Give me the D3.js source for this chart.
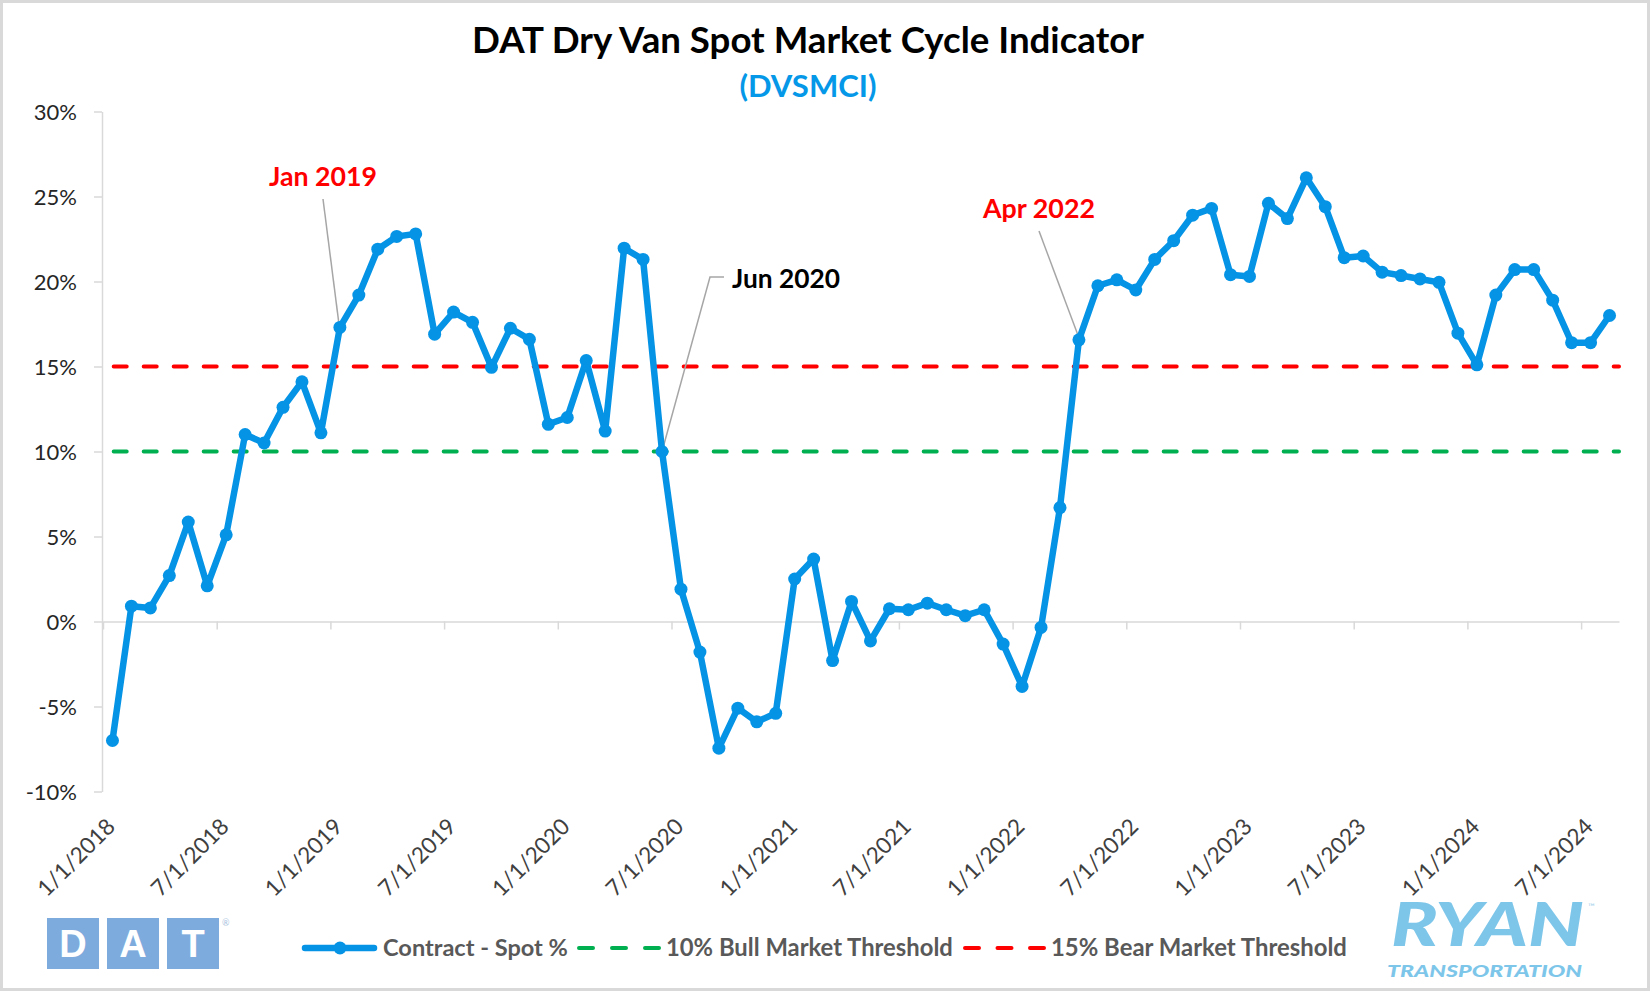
<!DOCTYPE html>
<html><head><meta charset="utf-8">
<script src="https://cdn.jsdelivr.net/npm/d3@7"></script>
<style>html,body{margin:0;padding:0;background:#fff;} svg{display:block;}</style>
</head><body><svg id="c" width="1650" height="991"></svg>
<script>
// ---------- DATA ----------
const firstMonth = "Jan 2018";
const spread2018 = [-7.0, 0.9, 0.8, 2.7, 5.85, 2.1, 5.1, 11.0, 10.5, 12.6, 14.1, 11.1];
const spread2019 = [17.3, 19.2, 21.9, 22.65, 22.8, 16.9, 18.2, 17.6, 14.95, 17.25, 16.6, 11.6];
const spread2020 = [12.0, 15.35, 11.2, 21.96, 21.3, 10.0, 1.9, -1.8, -7.45, -5.1, -5.9, -5.4];
const spread2021 = [2.5, 3.67, -2.3, 1.18, -1.14, 0.75, 0.69, 1.08, 0.69, 0.34, 0.69, -1.33];
const spread2022 = [-3.82, -0.35, 6.7, 16.57, 19.75, 20.1, 19.5, 21.3, 22.4, 23.9, 24.3, 20.4];
const spread2023 = [20.3, 24.6, 23.7, 26.1, 24.4, 21.4, 21.5, 20.55, 20.35, 20.15, 19.95, 16.96];
const spread2024 = [15.1, 19.2, 20.7, 20.7, 18.9, 16.4, 16.4, 18.0];
const bullThreshold = 10;
const bearThreshold = 15;
const tickLabels = ["1/1/2018","7/1/2018","1/1/2019","7/1/2019","1/1/2020","7/1/2020","1/1/2021",
                    "7/1/2021","1/1/2022","7/1/2022","1/1/2023","7/1/2023","1/1/2024","7/1/2024"];
const yTicks = [-10, -5, 0, 5, 10, 15, 20, 25, 30];
const annotations = [
  {label: "Jan 2019", index: 12, color: "#FF0000"},
  {label: "Jun 2020", index: 29, color: "#000000"},
  {label: "Apr 2022", index: 51, color: "#FF0000"}
];
const legendLabels = ["Contract - Spot %", "10% Bull Market Threshold", "15% Bear Market Threshold"];
const titleText = "DAT Dry Van Spot Market Cycle Indicator";
const subtitleText = "(DVSMCI)";

const spread = [].concat(spread2018, spread2019, spread2020, spread2021, spread2022, spread2023, spread2024);

// ---------- LAYOUT ----------
const W = 1650, H = 991;
const BLUE = "#0593E6", RED = "#FF0000", GREEN = "#00B050", AXIS = "#D9D9D9";
const FONT = "Lato, Carlito, 'Open Sans', sans-serif";
const svg = d3.select("#c");

svg.append("rect").attr("x", 1.5).attr("y", 1.5).attr("width", W - 3).attr("height", H - 3)
  .attr("fill", "#fff").attr("stroke", AXIS).attr("stroke-width", 3);

const xm = d3.scaleLinear().domain([0, spread.length]).range([103, 1619]);
const y = d3.scaleLinear().domain([-10, 30]).range([791.5, 111.5]);

function fit(sel, target) {
  const n = sel.node();
  const fs = parseFloat(sel.attr("font-size"));
  const w = n.getComputedTextLength();
  if (w > 0) sel.attr("font-size", (fs * target / w).toFixed(2));
  return sel;
}

// Title
const t1 = svg.append("text").attr("x", 808).attr("y", 53).attr("text-anchor", "middle")
  .attr("font-family", FONT).attr("font-weight", 700).attr("font-size", 32).attr("fill", "#000")
  .text(titleText);
fit(t1, 672);
const t2 = svg.append("text").attr("x", 808).attr("y", 97).attr("text-anchor", "middle")
  .attr("font-family", FONT).attr("font-weight", 700).attr("font-size", 28).attr("fill", "#0598E8")
  .text(subtitleText);
fit(t2, 137);

// Y axis
const yAxis = svg.append("g").attr("transform", "translate(102,0)")
  .call(d3.axisLeft(y).tickValues(yTicks).tickSize(8).tickSizeOuter(0).tickPadding(17)
        .tickFormat(d => d + "%"));
yAxis.select(".domain").attr("stroke", AXIS).attr("stroke-width", 1.5);
yAxis.selectAll(".tick line").attr("stroke", AXIS).attr("stroke-width", 1.5);
yAxis.selectAll(".tick text").attr("font-family", FONT).attr("font-size", 22).attr("fill", "#262626")
  .attr("dy", "0.35em");

// X axis at 0%
const xAxis = svg.append("g").attr("transform", `translate(0,${y(0)})`)
  .call(d3.axisBottom(xm).tickValues(d3.range(0, spread.length, 6)).tickSize(8).tickSizeOuter(0)
        .tickFormat((d, i) => tickLabels[i]));
xAxis.select(".domain").attr("stroke", AXIS).attr("stroke-width", 1.5);
xAxis.selectAll(".tick line").attr("stroke", AXIS).attr("stroke-width", 1.5);
const labY = 828 - y(0);
xAxis.selectAll(".tick text").attr("font-family", FONT).attr("font-size", 22.5).attr("fill", "#404040")
  .attr("x", 0).attr("y", 0).attr("dy", 0).attr("text-anchor", "end")
  .attr("transform", `translate(13,${labY}) rotate(-45)`);

// Threshold lines
[[bullThreshold, GREEN], [bearThreshold, RED]].forEach(([v, c]) => {
  svg.append("line").attr("x1", xm(0)).attr("x2", xm(spread.length)).attr("y1", y(v)).attr("y2", y(v))
    .attr("stroke", c).attr("stroke-width", 4).attr("stroke-dasharray", "13 17")
    .attr("stroke-dashoffset", 19.3).attr("stroke-linecap", "round");
});

// Annotation leaders (drawn under the series)
const cx = i => xm(i + 0.5);
const ann = svg.append("g");
ann.append("path").attr("d", `M323,199L${cx(12) - 1},${y(spread[12]) - 4}`)
  .attr("stroke", "#A6A6A6").attr("stroke-width", 1.5).attr("fill", "none");
ann.append("path").attr("d", `M724,277L710,277L${cx(29)},${y(spread[29])}`)
  .attr("stroke", "#A6A6A6").attr("stroke-width", 1.5).attr("fill", "none");
ann.append("path").attr("d", `M1039,231L${cx(51)},${y(spread[51]) - 2}`)
  .attr("stroke", "#A6A6A6").attr("stroke-width", 1.5).attr("fill", "none");

// Series
const line = d3.line().x((d, i) => cx(i)).y(d => y(d));
svg.append("path").datum(spread).attr("d", line).attr("fill", "none").attr("stroke", BLUE)
  .attr("stroke-width", 6.5).attr("stroke-linejoin", "round").attr("stroke-linecap", "round");
svg.append("g").selectAll("circle").data(spread).join("circle")
  .attr("cx", (d, i) => cx(i)).attr("cy", d => y(d)).attr("r", 6.5).attr("fill", BLUE);

// Annotation labels
const annPos = [{x: 269, y: 186, w: 108}, {x: 732, y: 288, w: 108}, {x: 983, y: 218, w: 112}];
annotations.forEach((a, k) => {
  const t = svg.append("text").attr("x", annPos[k].x).attr("y", annPos[k].y)
    .attr("font-family", FONT).attr("font-weight", 700).attr("font-size", 27).attr("fill", a.color)
    .text(a.label);
  fit(t, annPos[k].w);
});

// Legend
const LY = 948;
const lg = svg.append("g");
lg.append("line").attr("x1", 305).attr("x2", 374).attr("y1", LY).attr("y2", LY)
  .attr("stroke", BLUE).attr("stroke-width", 6.5).attr("stroke-linecap", "round");
lg.append("circle").attr("cx", 340).attr("cy", LY).attr("r", 6.5).attr("fill", BLUE);
lg.append("line").attr("x1", 579).attr("x2", 659).attr("y1", LY).attr("y2", LY)
  .attr("stroke", GREEN).attr("stroke-width", 4).attr("stroke-dasharray", "14 19").attr("stroke-linecap", "round");
lg.append("line").attr("x1", 965).attr("x2", 1044).attr("y1", LY).attr("y2", LY)
  .attr("stroke", RED).attr("stroke-width", 4).attr("stroke-dasharray", "14 18.5").attr("stroke-linecap", "round");
const legPos = [{x: 383, w: 185}, {x: 666, w: 287}, {x: 1051, w: 296}];
legendLabels.forEach((s, k) => {
  const t = lg.append("text").attr("x", legPos[k].x).attr("y", LY + 8)
    .attr("font-family", FONT).attr("font-weight", 700).attr("font-size", 22).attr("fill", "#595959")
    .text(s);
  fit(t, legPos[k].w);
});

// DAT logo
const dat = svg.append("g");
["D", "A", "T"].forEach((ch, k) => {
  const x0 = 47 + k * 60;
  dat.append("rect").attr("x", x0).attr("y", 918).attr("width", 52).attr("height", 51).attr("fill", "#7EABDD");
  dat.append("text").attr("x", x0 + 26).attr("y", 957).attr("text-anchor", "middle")
    .attr("font-family", "'Liberation Sans', Arial, sans-serif").attr("font-weight", 700).attr("font-size", 38)
    .attr("fill", "#fff").text(ch);
});
dat.append("text").attr("x", 222).attr("y", 926).attr("font-family", FONT).attr("font-size", 9)
  .attr("fill", "#A9C2DE").text("®");

// Ryan logo
const ry = svg.append("g").attr("font-family", FONT).attr("font-weight", 900)
  .attr("font-style", "italic").attr("fill", "#7DC6EA");
ry.append("text").attr("x", 1391).attr("y", 946).attr("font-size", 60)
  .attr("textLength", 193).attr("lengthAdjust", "spacingAndGlyphs").text("RYAN");
ry.append("text").attr("x", 1387).attr("y", 977).attr("font-size", 17)
  .attr("textLength", 195).attr("lengthAdjust", "spacingAndGlyphs").text("TRANSPORTATION");
ry.append("text").attr("x", 1588).attr("y", 910).attr("font-size", 9).attr("font-weight", 400)
  .attr("font-style", "normal").attr("fill", "#9FCFEA").text("™");
</script></body></html>
